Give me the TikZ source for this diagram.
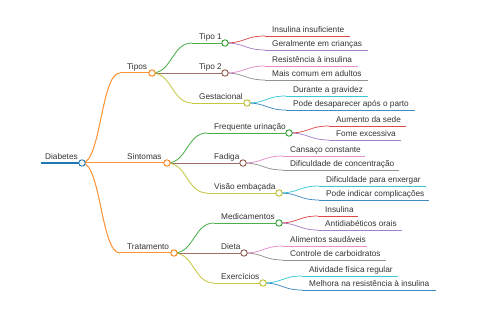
\documentclass[tikz,border=0pt]{standalone}
\usepackage{fontspec}
\setmainfont{Liberation Sans}
\usetikzlibrary{calc}
\definecolor{cblue}{HTML}{1F77B4}
\definecolor{corange}{HTML}{FF7F0E}
\definecolor{cgreen}{HTML}{2CA02C}
\definecolor{cred}{HTML}{D62728}
\definecolor{cpurple}{HTML}{9467BD}
\definecolor{cbrown}{HTML}{8C564B}
\definecolor{cpink}{HTML}{E377C2}
\definecolor{cgray}{HTML}{7F7F7F}
\definecolor{colive}{HTML}{BCBD22}
\definecolor{ccyan}{HTML}{17BECF}
\definecolor{tcol}{HTML}{333333}
\tikzset{
  txt/.style={anchor=base west, inner sep=0pt, font=\fontsize{8.25}{10}\selectfont, text=tcol},
  d0/.style={line width=1.2pt},
  d1/.style={line width=1pt, draw opacity=0.85},
  d2/.style={line width=0.85pt, draw opacity=0.85},
  d3/.style={line width=0.75pt, draw opacity=0.85},
  dot/.style={circle, draw=#1, fill=white, line width=0.9pt, minimum size=6.4pt, inner sep=0pt},
}
% name, x0, xe, y, color, depth style, text
\newcommand\mmnode[7]{%
  \coordinate (#1s) at (#2,#4);
  \coordinate (#1) at (#3,#4);
  \draw[#5,#6] (#1s) -- (#1);
  \node[txt] (#1t) at ({#2+7},{#4-3}) {#7};
}
% parent, child, color, depth style
\newcommand\mmlink[4]{%
  \draw[#3,#4] let \p1=(#1), \p2=(#2s) in (\p1) .. controls ({(\x1+\x2)/2},\y1) and ({(\x1+\x2)/2},\y2) .. (\p2);
}
\begin{document}
\begin{tikzpicture}[x=1pt,y=-1pt]
\useasboundingbox (0,0) rectangle (480,320);
% root
\coordinate (Ds) at (41,163);
\coordinate (D) at (82,163);
\draw[cblue,d0] (Ds) -- (D);
\node[txt] (Dt) at (45,160) {Diabetes};
% level 1
\mmnode{A}{120}{152}{73}{corange}{d1}{Tipos}
\mmnode{B}{120}{167}{163}{corange}{d1}{Sintomas}
\mmnode{C}{120}{174}{253}{corange}{d1}{Tratamento}
\mmlink{D}{A}{corange}{d1}
\mmlink{D}{B}{corange}{d1}
\mmlink{D}{C}{corange}{d1}
% level 2
\mmnode{Aa}{192}{225}{43}{cgreen}{d2}{Tipo 1}
\mmnode{Ab}{192}{225}{73}{cbrown}{d2}{Tipo 2}
\mmnode{Ac}{192}{247}{103}{colive}{d2}{Gestacional}
\mmnode{Ba}{207}{289}{133}{cgreen}{d2}{Frequente urinação}
\mmnode{Bb}{207}{243}{163}{cbrown}{d2}{Fadiga}
\mmnode{Bc}{207}{279}{193}{colive}{d2}{Visão embaçada}
\mmnode{Ca}{214}{279}{223}{cgreen}{d2}{Medicamentos}
\mmnode{Cb}{214}{244}{253}{cbrown}{d2}{Dieta}
\mmnode{Cc}{214}{263}{283}{colive}{d2}{Exercícios}
\mmlink{A}{Aa}{cgreen}{d2}
\mmlink{A}{Ab}{cbrown}{d2}
\mmlink{A}{Ac}{colive}{d2}
\mmlink{B}{Ba}{cgreen}{d2}
\mmlink{B}{Bb}{cbrown}{d2}
\mmlink{B}{Bc}{colive}{d2}
\mmlink{C}{Ca}{cgreen}{d2}
\mmlink{C}{Cb}{cbrown}{d2}
\mmlink{C}{Cc}{colive}{d2}
% level 3
\mmnode{Aa1}{265}{350}{36}{cred}{d3}{Insulina insuficiente}
\mmnode{Aa2}{265}{368}{50}{cpurple}{d3}{Geralmente em crianças}
\mmnode{Ab1}{265}{358}{66}{cpink}{d3}{Resistência à insulina}
\mmnode{Ab2}{265}{368}{80}{cgray}{d3}{Mais comum em adultos}
\mmnode{Ac1}{286}{368}{96}{ccyan}{d3}{Durante a gravidez}
\mmnode{Ac2}{286}{415}{110}{cblue}{d3}{Pode desaparecer após o parto}
\mmnode{Ba1}{329}{406}{126}{cred}{d3}{Aumento da sede}
\mmnode{Ba2}{329}{401}{140}{cpurple}{d3}{Fome excessiva}
\mmnode{Bb1}{283}{365}{156}{cpink}{d3}{Cansaço constante}
\mmnode{Bb2}{283}{399}{170}{cgray}{d3}{Dificuldade de concentração}
\mmnode{Bc1}{319}{426}{186}{ccyan}{d3}{Dificuldade para enxergar}
\mmnode{Bc2}{319}{429}{200}{cblue}{d3}{Pode indicar complicações}
\mmnode{Ca1}{318}{358}{216}{cred}{d3}{Insulina}
\mmnode{Ca2}{318}{402}{230}{cpurple}{d3}{Antidiabéticos orais}
\mmnode{Cb1}{283}{367}{246}{cpink}{d3}{Alimentos saudáveis}
\mmnode{Cb2}{283}{386}{260}{cgray}{d3}{Controle de carboidratos}
\mmnode{Cc1}{302}{398}{276}{ccyan}{d3}{Atividade física regular}
\mmnode{Cc2}{302}{436}{290}{cblue}{d3}{Melhora na resistência à insulina}
\mmlink{Aa}{Aa1}{cred}{d3}
\mmlink{Aa}{Aa2}{cpurple}{d3}
\mmlink{Ab}{Ab1}{cpink}{d3}
\mmlink{Ab}{Ab2}{cgray}{d3}
\mmlink{Ac}{Ac1}{ccyan}{d3}
\mmlink{Ac}{Ac2}{cblue}{d3}
\mmlink{Ba}{Ba1}{cred}{d3}
\mmlink{Ba}{Ba2}{cpurple}{d3}
\mmlink{Bb}{Bb1}{cpink}{d3}
\mmlink{Bb}{Bb2}{cgray}{d3}
\mmlink{Bc}{Bc1}{ccyan}{d3}
\mmlink{Bc}{Bc2}{cblue}{d3}
\mmlink{Ca}{Ca1}{cred}{d3}
\mmlink{Ca}{Ca2}{cpurple}{d3}
\mmlink{Cb}{Cb1}{cpink}{d3}
\mmlink{Cb}{Cb2}{cgray}{d3}
\mmlink{Cc}{Cc1}{ccyan}{d3}
\mmlink{Cc}{Cc2}{cblue}{d3}
% circles
\node[dot=cblue] (Dc) at (D) {};
\node[dot=corange] (Ac0) at (A) {};
\node[dot=corange] (Bc0) at (B) {};
\node[dot=corange] (Cc0) at (C) {};
\node[dot=cgreen] (Aac) at (Aa) {};
\node[dot=cbrown] (Abc) at (Ab) {};
\node[dot=colive] (Acc) at (Ac) {};
\node[dot=cgreen] (Bac) at (Ba) {};
\node[dot=cbrown] (Bbc) at (Bb) {};
\node[dot=colive] (Bcc) at (Bc) {};
\node[dot=cgreen] (Cac) at (Ca) {};
\node[dot=cbrown] (Cbc) at (Cb) {};
\node[dot=colive] (Ccc) at (Cc) {};
\end{tikzpicture}
\end{document}
